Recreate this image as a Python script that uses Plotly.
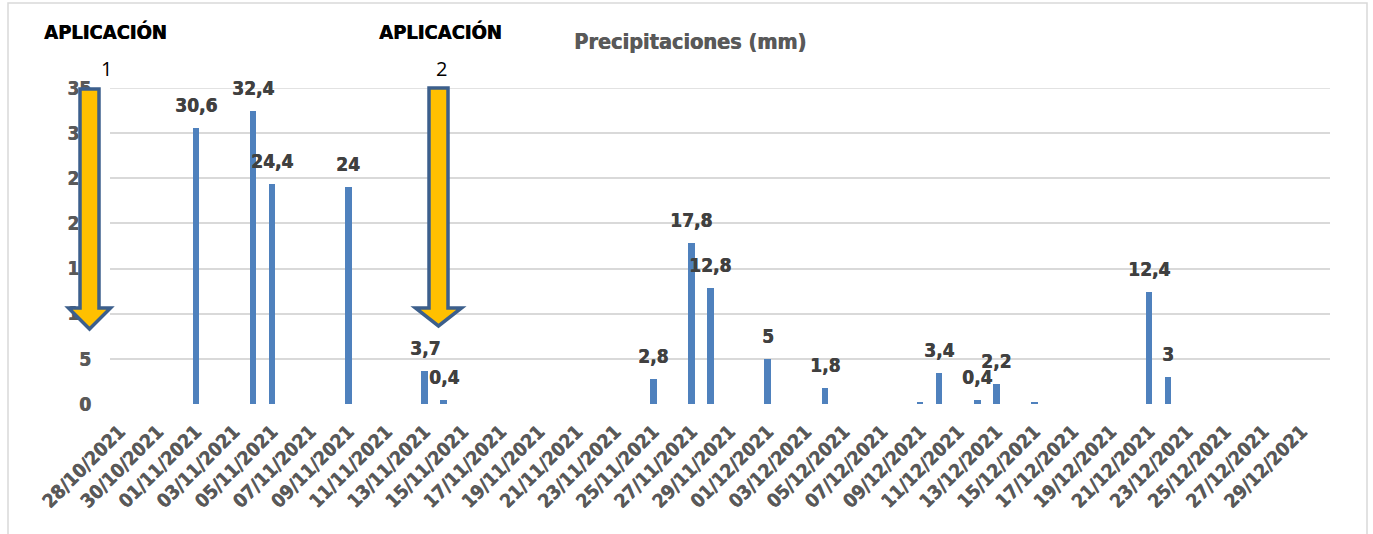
import plotly.graph_objects as go

# Daily rainfall (mm) for the recorded days
fechas = ["2021-11-01", "2021-11-04", "2021-11-05", "2021-11-09", "2021-11-13",
          "2021-11-14", "2021-11-25", "2021-11-27", "2021-11-28", "2021-12-01",
          "2021-12-04", "2021-12-09", "2021-12-10", "2021-12-12", "2021-12-13",
          "2021-12-15", "2021-12-21", "2021-12-22"]
precipitacion = [30.6, 32.4, 24.4, 24, 3.7, 0.4, 2.8, 17.8, 12.8, 5,
                 1.8, 0.2, 3.4, 0.4, 2.2, 0.2, 12.4, 3]
etiquetado = [True, True, True, True, True, True, True, True, True, True,
              True, False, True, True, True, False, True, True]

eje_inicio = "2021-10-27 12:00"
eje_fin = "2021-12-30 12:00"
y_ticks = [0, 5, 10, 15, 20, 25, 30, 35]

W, H = 1373, 534
L, R, T, B = 110, 1330, 88, 404

BLUE = "#4F81BD"
GRAY = "#595959"
DARK = "#404040"
GRID = "#D9D9D9"
FONT = "DejaVu Sans Condensed, DejaVu Sans"
DAY_MS = 86400000


def px(x):
    return (x - L) / (R - L)


def py(y):
    return (B - y) / (B - T)


def heavy(color):
    # thin same-colour shadow thickens the bold glyphs a little
    return f"0.6px 0 0 {color}"


fig = go.Figure()
fig.add_trace(go.Bar(
    x=fechas, y=precipitacion, width=0.34 * DAY_MS,
    marker=dict(color=BLUE, line=dict(width=0)),
    hoverinfo="x+y", showlegend=False,
))

annotations = []
for f, v, show in zip(fechas, precipitacion, etiquetado):
    if not show:
        continue
    annotations.append(dict(
        x=f, y=v, xref="x", yref="y", text=f"{v:g}".replace(".", ","),
        showarrow=False, yanchor="middle", xanchor="center", yshift=23,
        font=dict(family=FONT, size=19, color=DARK, weight="bold",
                  shadow=heavy(DARK)),
    ))


def label(x, y, text, size, color, weight="bold", family=FONT, shadow="none"):
    annotations.append(dict(
        x=px(x), y=py(y), xref="paper", yref="paper", text=text,
        showarrow=False, xanchor="center", yanchor="middle",
        font=dict(family=family, size=size, color=color, weight=weight,
                  shadow=shadow),
    ))


label(690, 42, "Precipitaciones (mm)", 21.5, GRAY, shadow=heavy(GRAY))
label(105, 32, "APLICACIÓN", 20, "#000000", shadow=heavy("#000000"))
label(106, 68, "1", 20, "#000000", "normal", "Open Sans, Liberation Sans")
label(440, 32, "APLICACIÓN", 20, "#000000", shadow=heavy("#000000"))
label(441, 68, "2", 20, "#000000", "normal", "Open Sans, Liberation Sans")


def down_arrow(cx, top, base, tip, shaft_w, head_w):
    pts = [(cx - shaft_w / 2, top), (cx + shaft_w / 2, top),
           (cx + shaft_w / 2, base), (cx + head_w / 2, base),
           (cx, tip), (cx - head_w / 2, base), (cx - shaft_w / 2, base)]
    path = "M " + " L ".join(f"{px(x):.5f},{py(y):.5f}" for x, y in pts) + " Z"
    return dict(type="path", path=path, xref="paper", yref="paper",
                fillcolor="#FFC000", line=dict(color="#3C5F8C", width=3.5),
                layer="above")


shapes = [
    dict(type="line", xref="paper", yref="y", x0=0, x1=1, y0=35, y1=35,
         line=dict(color=GRID, width=1.5), layer="below"),
    down_arrow(89.5, 89, 308, 329, 19, 42),
    down_arrow(438.5, 88, 308, 326, 19, 46),
    dict(type="rect", xref="paper", yref="paper",
         x0=px(8), x1=px(1367), y0=py(560), y1=py(3),
         line=dict(color=GRID, width=1.5), layer="below"),
]

fig.update_layout(
    width=W, height=H,
    margin=dict(l=L, r=W - R, t=T, b=H - B),
    paper_bgcolor="white", plot_bgcolor="white",
    bargap=0,
    annotations=annotations, shapes=shapes,
    xaxis=dict(
        type="date", range=[eje_inicio, eje_fin],
        tick0="2021-10-28", dtick=2 * DAY_MS, tickformat="%d/%m/%Y",
        tickangle=-45, showgrid=False, zeroline=False, showline=False,
        ticks="", ticklabelstandoff=12,
        tickfont=dict(family=FONT, size=19, color=GRAY, weight="bold",
                      shadow=heavy(GRAY)),
    ),
    yaxis=dict(
        range=[0, 35], tickvals=y_ticks, showgrid=True, gridcolor=GRID,
        gridwidth=1.5, zeroline=False, showline=False, ticks="",
        ticklabelstandoff=18,
        tickfont=dict(family=FONT, size=19, color=GRAY, weight="bold",
                      shadow=heavy(GRAY)),
    ),
)

fig.write_html("out.html")
